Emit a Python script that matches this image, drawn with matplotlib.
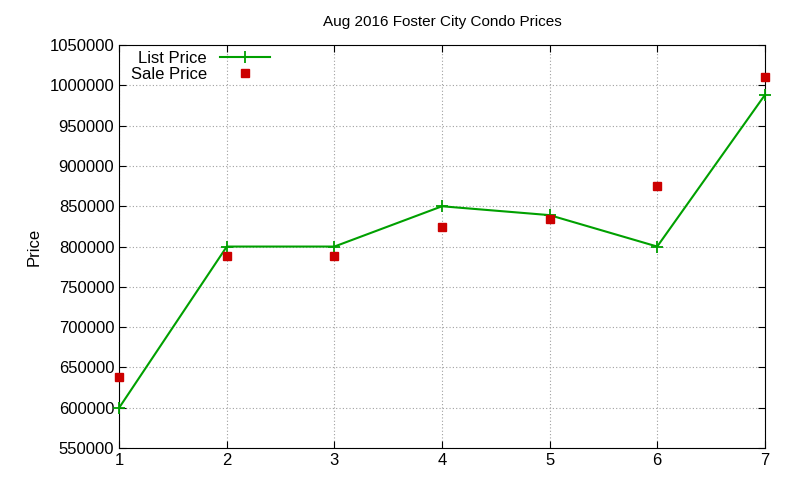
import matplotlib
matplotlib.use("Agg")
import matplotlib.pyplot as plt
from matplotlib.ticker import FormatStrFormatter

# data
days = [1, 2, 3, 4, 5, 6, 7]
list_price = [600000, 800000, 800000, 850000, 839000, 800000, 988000]
sale_price = [638000, 788000, 788000, 824000, 834000, 875000, 1010000]
yticks = list(range(550000, 1050001, 50000))

plt.rcParams["font.family"] = ["Liberation Sans", "DejaVu Sans"]
plt.rcParams["font.size"] = 12

fig = plt.figure(figsize=(8, 4.8), dpi=100)
ax = fig.add_axes([0.149, 0.0667, 0.807, 0.8393])

ax.plot(days, list_price, color="#00a000", lw=1.5, marker="+", ms=8,
        mew=1.3, label="List Price", clip_on=False, zorder=3)
ax.plot(days, sale_price, ls="none", marker="s", ms=6, color="#cc0000",
        label="Sale Price", clip_on=False, zorder=3)

ax.set_xlim(1, 7)
ax.set_ylim(550000, 1050000)
ax.set_xticks(days)
ax.set_yticks(yticks)
ax.yaxis.set_major_formatter(FormatStrFormatter("%d"))
ax.grid(True, color="#a0a0a0", ls=(0, (1, 2)), lw=0.8)
ax.tick_params(direction="in", top=True, right=True, length=5)
ax.set_title("Aug 2016 Foster City Condo Prices", fontsize=11, pad=14)
ax.set_ylabel("Price")
ax.yaxis.set_label_coords(-0.12, 0.5)

ax.legend(loc="upper left", bbox_to_anchor=(0.0, 1.015), frameon=False,
          markerfirst=False, handlelength=3, borderaxespad=0.3,
          labelspacing=0.05, alignment="right", numpoints=1)

fig.savefig("out.png", dpi=100)
